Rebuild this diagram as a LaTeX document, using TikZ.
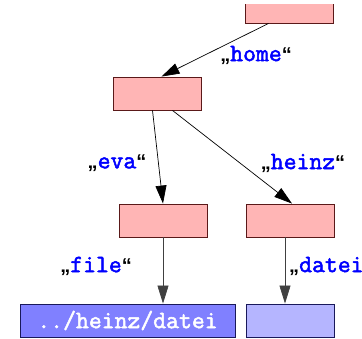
\documentclass[tikz,border=0pt]{standalone}
\usepackage{fontspec}
\setmainfont{Liberation Sans}
\newfontfamily\namefont[FakeBold=2]{Latin Modern Mono}
\usetikzlibrary{arrows.meta}

\definecolor{dirpink}{RGB}{255,181,181}
\definecolor{dirline}{RGB}{90,25,25}
\definecolor{linkblue}{RGB}{128,128,255}
\definecolor{fileblue}{RGB}{181,181,255}
\definecolor{fileline}{RGB}{25,25,90}
\definecolor{namecol}{RGB}{0,0,255}

\tikzset{
    dirbox/.style={draw=dirline, fill=dirpink, line width=0.9pt, minimum width=88pt, minimum height=33pt, inner sep=0pt},
    filebox/.style={draw=fileline, fill=fileblue, line width=0.9pt, minimum width=88pt, minimum height=33pt, inner sep=0pt},
    linkbox/.style={draw=fileline, fill=linkblue, line width=0.9pt, minimum width=215pt, minimum height=33pt, inner sep=0pt,
        text=white, font=\fontsize{25}{27}\selectfont\namefont},
    arr/.style={-{Triangle[length=18pt,width=11pt]}, line width=0.7pt},
    lbl/.style={inner sep=0pt, font=\fontsize{20}{22}\selectfont}
}
\newcommand{\fname}[1]{\textbf{„}{\fontsize{25}{27}\selectfont\namefont\color{namecol}#1}\textbf{“}}

\begin{document}
\begin{tikzpicture}[x=1pt, y=-1pt]
    \useasboundingbox (0,0) rectangle (362,338);
    \clip (0,4) rectangle (362,338);
    % directories
    \node[dirbox, minimum height=40pt] (root) at (289.5,3) {};
    \node[dirbox] (home) at (157.5,93.5) {};
    \node[dirbox] (eva) at (163,220.5) {};
    \node[dirbox] (heinz) at (290,220.5) {};
    % files
    \node[linkbox] (link) at (127.5,320.5) {../heinz/datei};
    \node[filebox] (datei) at (290,320.5) {};

    % edges
    \draw[arr] ([xshift=-21pt]root.south) -- ([xshift=4pt]home.north);
    \draw[arr] ([xshift=-5pt]home.south) -- (eva.north);
    \draw[arr] ([xshift=15pt]home.south) -- ([xshift=2pt]heinz.north);
    \draw[arr, black!75] (eva.south) -- (eva.south |- link.north);
    \draw[arr, black!75] ([xshift=-5pt]heinz.south) -- ([xshift=-5pt]heinz.south |- datei.north);

    % names
    \node[lbl] (nhome) at (256,55) {\fname{home}};
    \node[lbl] (neva) at (117,163) {\fname{eva}};
    \node[lbl] (nheinz) at (303,163) {\fname{heinz}};
    \node[lbl] (nfile) at (96,266) {\fname{file}};
    \node[lbl, anchor=west] (ndatei) at (289,266) {\fname{datei}};
\end{tikzpicture}
\end{document}
